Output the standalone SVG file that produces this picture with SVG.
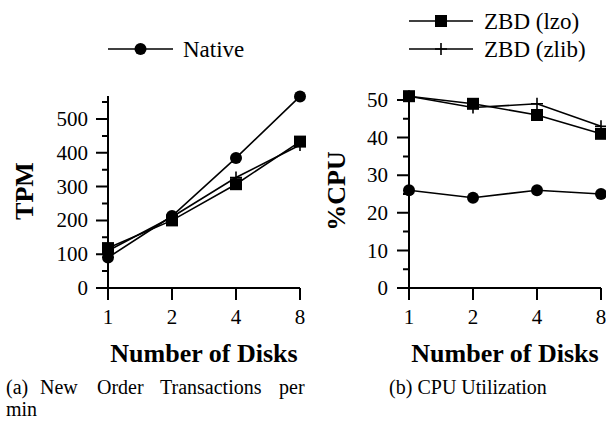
<svg xmlns="http://www.w3.org/2000/svg" xmlns:xlink="http://www.w3.org/1999/xlink" width="606" height="422" viewBox="0 0 606 422">
<style>
.tick{font-size:21px}
.leg{font-size:23px}
.title{font-size:26px;font-weight:bold}
.cap{font-size:20px}
.axis{stroke:#000;stroke-width:2;fill:none}
.data{stroke:#000;stroke-width:1.6;fill:none}
</style>
<defs>
<circle id="mc" r="6" fill="#000"/>
<rect id="ms" x="-6" y="-6" width="12" height="12" fill="#000"/>
<path id="mp" d="M-6 0H6M0 -6V6" stroke="#000" stroke-width="1.6" fill="none"/>
</defs>
<rect width="606" height="422" fill="#fff"/>

<g font-family="Liberation Serif, serif" fill="#000">
<g id="legend-native">
<line class="data" x1="108" y1="49" x2="173" y2="49"/>
<use xlink:href="#mc" x="140.5" y="49"/>
<text class="leg" x="183" y="57">Native</text>
</g>
<g id="legend-lzo">
<line class="data" x1="409" y1="21" x2="473" y2="21"/>
<use xlink:href="#ms" x="441" y="21"/>
<text class="leg" x="484" y="29">ZBD (lzo)</text>
</g>
<g id="legend-zlib">
<line class="data" x1="409" y1="49" x2="473" y2="49"/>
<use xlink:href="#mp" x="441" y="49"/>
<text class="leg" x="484" y="57">ZBD (zlib)</text>
</g>

<g id="plot-a">
<path class="axis" d="M108 96V288H300"/>
<path class="axis" d="M96 288H108M96 254.2H108M96 220.4H108M96 186.6H108M96 152.8H108M96 119H108"/>
<path class="axis" d="M102 271.1H108M102 237.3H108M102 203.5H108M102 169.7H108M102 135.9H108M102 102.1H108"/>
<path class="axis" d="M108 288V300M172 288V300M236 288V300M300 288V300"/>
<g class="tick" text-anchor="end">
<text x="88" y="295">0</text>
<text x="88" y="261">100</text>
<text x="88" y="227">200</text>
<text x="88" y="194">300</text>
<text x="88" y="160">400</text>
<text x="88" y="126">500</text>
</g>
<g class="tick" text-anchor="middle">
<text x="108" y="324">1</text>
<text x="172" y="324">2</text>
<text x="236" y="324">4</text>
<text x="300" y="324">8</text>
</g>
<text class="title" transform="translate(33 191) rotate(-90)" text-anchor="middle">TPM</text>
<text class="title" x="204" y="362" text-anchor="middle">Number of Disks</text>
<g id="a-native">
<polyline class="data" points="108,257.6 172,216 236,157.9 300,96.4"/>
<use xlink:href="#mc" x="108" y="257.6"/><use xlink:href="#mc" x="172" y="216"/><use xlink:href="#mc" x="236" y="157.9"/><use xlink:href="#mc" x="300" y="96.4"/>
</g>
<g id="a-lzo">
<polyline class="data" points="108,248.1 172,220.4 236,184.2 300,141.6"/>
<use xlink:href="#ms" x="108" y="248.1"/><use xlink:href="#ms" x="172" y="220.4"/><use xlink:href="#ms" x="236" y="184.2"/><use xlink:href="#ms" x="300" y="141.6"/>
</g>
<g id="a-zlib">
<polyline class="data" points="108,250.8 172,217 236,177.5 300,145"/>
<use xlink:href="#mp" x="108" y="250.8"/><use xlink:href="#mp" x="172" y="217"/><use xlink:href="#mp" x="236" y="177.5"/><use xlink:href="#mp" x="300" y="145"/>
</g>
</g>

<g id="plot-b">
<path class="axis" d="M409 94V288H601"/>
<path class="axis" d="M397 288H409M397 250.4H409M397 212.8H409M397 175.2H409M397 137.6H409M397 100H409"/>
<path class="axis" d="M403 269.2H409M403 231.6H409M403 194H409M403 156.4H409M403 118.8H409"/>
<path class="axis" d="M409 288V300M473 288V300M537 288V300M601 288V300"/>
<g class="tick" text-anchor="end">
<text x="388" y="295">0</text>
<text x="388" y="258">10</text>
<text x="388" y="220">20</text>
<text x="388" y="182">30</text>
<text x="388" y="145">40</text>
<text x="388" y="107">50</text>
</g>
<g class="tick" text-anchor="middle">
<text x="409" y="324">1</text>
<text x="473" y="324">2</text>
<text x="537" y="324">4</text>
<text x="601" y="324">8</text>
</g>
<text class="title" transform="translate(345 191) rotate(-90)" text-anchor="middle">%CPU</text>
<text class="title" x="505" y="362" text-anchor="middle">Number of Disks</text>
<g id="b-native">
<polyline class="data" points="409,190.2 473,197.8 537,190.2 601,194"/>
<use xlink:href="#mc" x="409" y="190.2"/><use xlink:href="#mc" x="473" y="197.8"/><use xlink:href="#mc" x="537" y="190.2"/><use xlink:href="#mc" x="601" y="194"/>
</g>
<g id="b-zlib">
<polyline class="data" points="409,96.2 473,107.5 537,103.8 601,126.3"/>
<use xlink:href="#mp" x="409" y="96.2"/><use xlink:href="#mp" x="473" y="107.5"/><use xlink:href="#mp" x="537" y="103.8"/><use xlink:href="#mp" x="601" y="126.3"/>
</g>
<g id="b-lzo">
<polyline class="data" points="409,96.2 473,103.8 537,115 601,133.8"/>
<use xlink:href="#ms" x="409" y="96.2"/><use xlink:href="#ms" x="473" y="103.8"/><use xlink:href="#ms" x="537" y="115"/><use xlink:href="#ms" x="601" y="133.8"/>
</g>
</g>

<g id="captions" class="cap">
<text y="394"><tspan x="6">(a)</tspan><tspan x="40">New</tspan><tspan x="97">Order</tspan><tspan x="160">Transactions</tspan><tspan x="279">per</tspan></text>
<text x="6" y="416">min</text>
<text x="468" y="394" text-anchor="middle">(b) CPU Utilization</text>
</g>
</g>
</svg>
